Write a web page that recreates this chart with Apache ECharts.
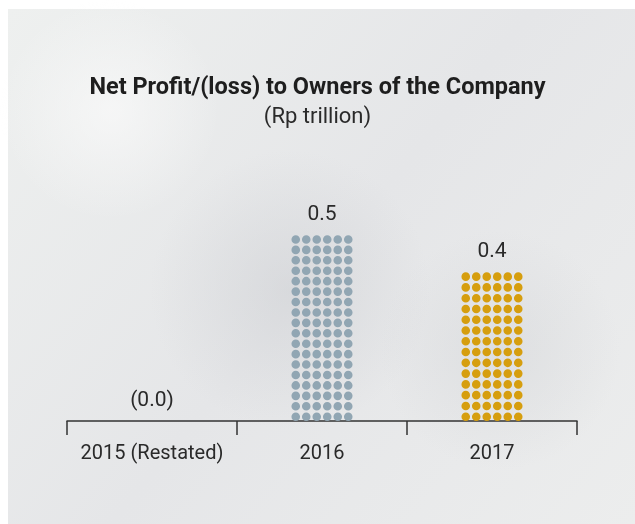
<!DOCTYPE html>
<html>
<head>
<meta charset="utf-8">
<script src="https://cdn.jsdelivr.net/npm/echarts@6/dist/echarts.min.js"></script>
<style>
  html, body { margin: 0; padding: 0; background: #fff; }
  #chart { width: 635px; height: 524px; }
</style>
</head>
<body>
<div id="chart"></div>
<script>
const years = ['2015 (Restated)', '2016', '2017'];
const profit = [0, 0.5, 0.4];
const valueLabels = ['(0.0)', '0.5', '0.4'];
const dotColors = ['#91a6b3', '#91a6b3', '#d69e0e'];

// one row of six dots, repeated up the bar
function dotRow(count, pitch, r) {
    let d = '';
    for (let i = 0; i < count; i++) {
        const cx = r + i * pitch;
        d += `M${cx - r} ${r}a${r} ${r} 0 1 0 ${r * 2} 0a${r} ${r} 0 1 0 ${-r * 2} 0Z`;
    }
    return 'path://' + d;
}

const chart = echarts.init(document.getElementById('chart'));

chart.setOption({
    animation: false,
    graphic: [
        {
            type: 'rect', left: 8, top: 9, z: -10,
            shape: { width: 627, height: 515 },
            style: {
                fill: new echarts.graphic.LinearGradient(0, 0, 1, 1, [
                    { offset: 0, color: '#eef0ef' },
                    { offset: 0.5, color: '#e5e6e8' },
                    { offset: 1, color: '#eceded' }
                ])
            }
        },
        {
            type: 'circle', left: 150, top: 150, z: -9,
            shape: { r: 140 },
            style: {
                fill: new echarts.graphic.RadialGradient(0.5, 0.5, 0.5, [
                    { offset: 0, color: 'rgba(200,202,206,0.45)' },
                    { offset: 1, color: 'rgba(200,202,206,0)' }
                ])
            }
        },
        {
            type: 'circle', left: 380, top: 230, z: -9,
            shape: { r: 120 },
            style: {
                fill: new echarts.graphic.RadialGradient(0.5, 0.5, 0.5, [
                    { offset: 0, color: 'rgba(205,207,210,0.4)' },
                    { offset: 1, color: 'rgba(205,207,210,0)' }
                ])
            }
        },
        {
            type: 'circle', left: 0, top: 0, z: -9,
            shape: { r: 110 },
            style: {
                fill: new echarts.graphic.RadialGradient(0.5, 0.5, 0.5, [
                    { offset: 0, color: 'rgba(250,250,250,0.7)' },
                    { offset: 1, color: 'rgba(250,250,250,0)' }
                ])
            }
        }
    ],
    title: {
        text: 'Net Profit/(loss) to Owners of the Company',
        subtext: '(Rp trillion)',
        left: 'center',
        top: 71,
        itemGap: 6,
        textStyle: {
            fontFamily: 'Roboto',
            fontWeight: 'bold',
            fontSize: 23.5,
            color: '#1e1e1e'
        },
        subtextStyle: {
            fontFamily: 'Roboto',
            fontSize: 22,
            color: '#2a2a2a'
        }
    },
    grid: {
        left: 67,
        right: 58,
        top: 198,
        bottom: 103
    },
    xAxis: {
        type: 'category',
        data: years,
        axisLine: { lineStyle: { color: '#333', width: 1.5 } },
        axisTick: { show: true, length: 14, lineStyle: { color: '#333', width: 1.5 } },
        axisLabel: {
            interval: 0,
            margin: 23,
            fontFamily: 'Roboto',
            fontSize: 20,
            color: '#2a2a2a'
        }
    },
    yAxis: {
        type: 'value',
        min: 0,
        max: 0.6,
        show: false
    },
    series: [
        {
            type: 'pictorialBar',
            data: profit.map((v, i) => ({
                value: v,
                itemStyle: { color: dotColors[i] },
                symbol: v > 0 ? dotRow(6, 10.5, 4.3) : 'none',
                symbolBoundingData: v
            })),
            symbolSize: [61.1, 8.6],
            symbolRepeat: true,
            symbolMargin: 1.15,
            symbolPosition: 'start',
            z: 3
        },
        {
            type: 'bar',
            data: profit,
            barWidth: 60,
            itemStyle: { color: 'rgba(0,0,0,0)' },
            label: {
                show: true,
                position: 'top',
                distance: 10,
                formatter: p => valueLabels[p.dataIndex],
                fontFamily: 'Roboto',
                fontSize: 21,
                color: '#2a2a2a'
            },
            z: 4
        }
    ]
});
</script>
</body>
</html>
